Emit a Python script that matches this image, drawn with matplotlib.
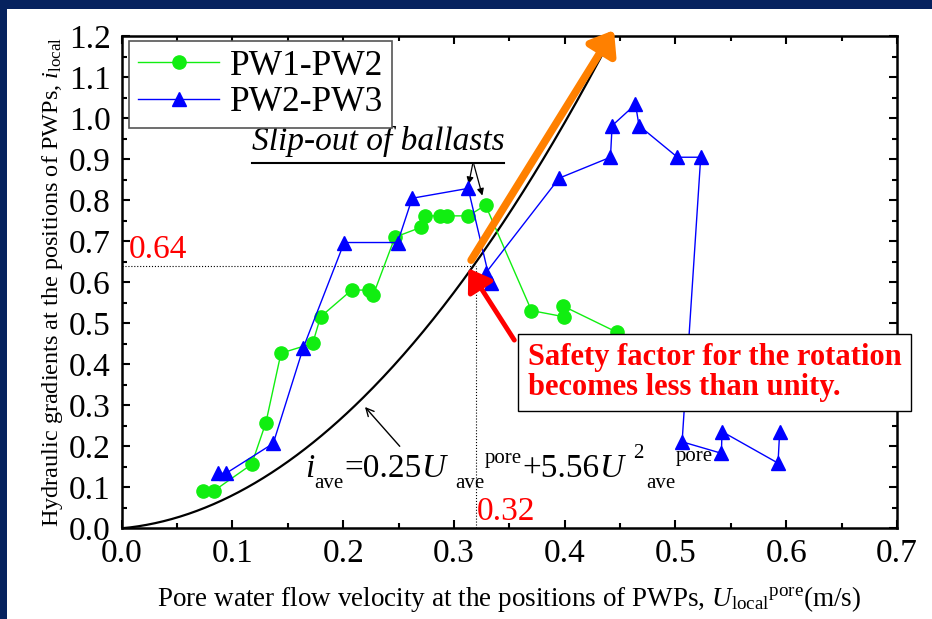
import matplotlib
matplotlib.use('Agg')
import matplotlib.pyplot as plt
from matplotlib.patches import Rectangle
import numpy as np

plt.rcParams['font.family'] = 'Liberation Serif'
plt.rcParams['mathtext.fontset'] = 'custom'
plt.rcParams['mathtext.rm'] = 'Liberation Serif'
plt.rcParams['mathtext.it'] = 'Liberation Serif:italic'

# PW1-PW2 measurements
pw12_u = [0.0736, 0.0836, 0.1173, 0.1302, 0.1438, 0.1724, 0.1796, 0.2076, 0.2235, 0.2271,
          0.2467, 0.2701, 0.2737, 0.2873, 0.2933, 0.3128, 0.3285, 0.370, 0.3992, 0.3986, 0.4473]
pw12_i = [0.092, 0.092, 0.156, 0.258, 0.427, 0.451, 0.516, 0.581, 0.581, 0.569,
          0.710, 0.734, 0.762, 0.762, 0.762, 0.762, 0.788, 0.531, 0.516, 0.542, 0.478]

# PW2-PW3 measurements
pw23_u = [0.0872, 0.0941, 0.1368, 0.1639, 0.2009, 0.2491, 0.2623, 0.3128, 0.333, 0.3285, 0.395,
          0.4413, 0.4428, 0.4639, 0.4671, 0.5018, 0.5228, 0.506, 0.5415, 0.542, 0.5926, 0.5941]
pw23_i = [0.134, 0.134, 0.207, 0.440, 0.697, 0.697, 0.805, 0.829, 0.598, 0.622, 0.854,
          0.905, 0.982, 1.034, 0.982, 0.905, 0.905, 0.211, 0.183, 0.236, 0.159, 0.236]

# fitted relation i_ave = c1*U + c2*U^2
c1 = 0.25
c2 = 5.56
u_crit = 0.32
i_crit = 0.64

navy = '#06225e'
green = '#11ee11'
blue = '#0000ff'

fig = plt.figure(figsize=(9.32, 6.19), dpi=100, facecolor=navy)
fig.patches.append(Rectangle((7/932, 0), 1, 1 - 9/619, transform=fig.transFigure,
                             facecolor='white', edgecolor='none', zorder=-10))
ax = fig.add_axes([0.1306, 0.1465, 0.8318, 0.7949])

u = np.linspace(0, 0.45, 300)
ax.plot(u, c1*u + c2*u**2, color='black', lw=1.6, zorder=3)

ax.plot(pw12_u, pw12_i, '-o', color=green, mfc=green, mec=green, lw=1.0, ms=9.5, label='PW1-PW2', zorder=4)
ax.plot(pw23_u, pw23_i, '-^', color=blue, mfc=blue, mec=blue, lw=1.0, ms=10, label='PW2-PW3', zorder=4)

# critical point guides
ax.plot([0, u_crit], [i_crit, i_crit], color='black', ls=':', lw=0.8, zorder=2)
ax.plot([u_crit, u_crit], [0, i_crit], color='black', ls=':', lw=0.8, zorder=2)
ax.text(0.0066, 0.6585, '%.2f' % i_crit, color='red', fontsize=24, va='baseline')
ax.text(0.3204, 0.02, '%.2f' % u_crit, color='red', fontsize=24, va='baseline')

ax.set_xlim(0, 0.7)
ax.set_ylim(0, 1.2)
ax.set_xticks(np.arange(0, 0.71, 0.1))
ax.set_yticks(np.arange(0, 1.21, 0.1))
ax.set_xticks(np.arange(0, 0.71, 0.05), minor=True)
ax.set_yticks(np.arange(0, 1.21, 0.05), minor=True)
ax.xaxis.set_major_formatter(matplotlib.ticker.FormatStrFormatter('%.1f'))
ax.yaxis.set_major_formatter(matplotlib.ticker.FormatStrFormatter('%.1f'))
ax.tick_params(which='both', direction='in', top=True, right=True, width=1.5, labelsize=24)
ax.tick_params(which='major', length=6)
ax.tick_params(axis='x', which='major', pad=7)
ax.tick_params(axis='y', which='major', pad=8)
ax.tick_params(which='minor', length=3.5)
for s in ax.spines.values():
    s.set_linewidth(1.8)

ax.set_xlabel(r'Pore water flow velocity at the positions of PWPs, $U_{\mathrm{local}}{}^{\mathrm{pore}}$(m/s)',
              fontsize=19.5, labelpad=11)
ax.set_ylabel(r'Hydraulic gradients at the positions of PWPs, $i_{\mathrm{local}}$', fontsize=17.5, labelpad=3)

leg = ax.legend(loc='upper left', bbox_to_anchor=(0.0094, 0.9904), borderaxespad=0, fontsize=25.5,
                fancybox=False, framealpha=1, edgecolor='#555555', handlelength=2.3,
                handletextpad=0.3, borderpad=0.25, labelspacing=0.1)
leg.get_frame().set_linewidth(1.2)

fig.canvas.draw()
renderer = fig.canvas.get_renderer()
to_data = ax.transData.inverted()

# slip-out annotation, underlined
slip = ax.text(0.1173, 0.9227, 'Slip-out of ballasts', style='italic', fontsize=24, va='baseline')
sb = slip.get_window_extent(renderer)
x0 = to_data.transform((sb.x0, 0))[0]
x1 = to_data.transform((sb.x1, 0))[0]
ax.plot([x0, x1], [0.8917, 0.8917], color='black', lw=1.5)
for tip in [(0.3128, 0.833), (0.3263, 0.805)]:
    ax.annotate('', xy=tip, xytext=(0.3173, 0.894),
                arrowprops=dict(arrowstyle='-|>', color='black', lw=0.9, mutation_scale=10))

# orange arrow along the fitted curve
ax.annotate('', xy=(0.4445, 1.215), xytext=(0.3155, 0.654), annotation_clip=False,
            arrowprops=dict(arrowstyle='-|>,head_length=0.6,head_width=0.45', color='#ff8000',
                            lw=5.5, mutation_scale=22, shrinkA=0, shrinkB=0), zorder=6)

# red arrow and note box
ax.annotate('', xy=(0.313, 0.634), xytext=(0.3545, 0.459),
            arrowprops=dict(arrowstyle='-|>,head_length=0.6,head_width=0.4', color='red',
                            lw=3.5, mutation_scale=22, shrinkA=0, shrinkB=0), zorder=6)
ax.text(0.3665, 0.38, 'Safety factor for the rotation\nbecomes less than unity.', color='red',
        fontsize=22, fontweight='bold', va='center', ha='left', linespacing=1.05, zorder=7,
        bbox=dict(boxstyle='square,pad=0.3', facecolor='white', edgecolor='black', lw=1.0))

# equation label, pieces set side by side
ax.annotate('', xy=(0.218, 0.301), xytext=(0.2527, 0.195),
            arrowprops=dict(arrowstyle='->', color='black', lw=1.0, mutation_scale=14))
big, small = 24, 15
y_main, y_sub, y_sup = 0.126, 0.098, 0.16
pieces = [('i', big, 'italic', y_main, 0),
          ('ave', small, 'normal', y_sub, 0),
          ('=%.2f' % c1, big, 'normal', y_main, 0),
          ('U', big, 'italic', y_main, 0),
          ('ave', small, 'normal', y_sub, 8),
          ('pore', small, 'normal', y_sup, 0),
          ('+%.2f' % c2, big, 'normal', y_main, 0),
          ('U', big, 'italic', y_main, 0),
          ('2', small, 'normal', 0.171, 9),
          ('ave', small, 'normal', y_sub, 2),
          ('pore', small, 'normal', 0.163, 0)]
x_px = ax.transData.transform((0.1654, 0))[0]
for txt, fs, st, yy, gap in pieces:
    x_px += gap
    xd = to_data.transform((x_px, 0))[0]
    t = ax.text(xd, yy, txt, fontsize=fs, style=st, va='baseline', ha='left')
    x_px = t.get_window_extent(renderer).x1 + 0.5

fig.savefig('out.png', dpi=100, facecolor=fig.get_facecolor())
